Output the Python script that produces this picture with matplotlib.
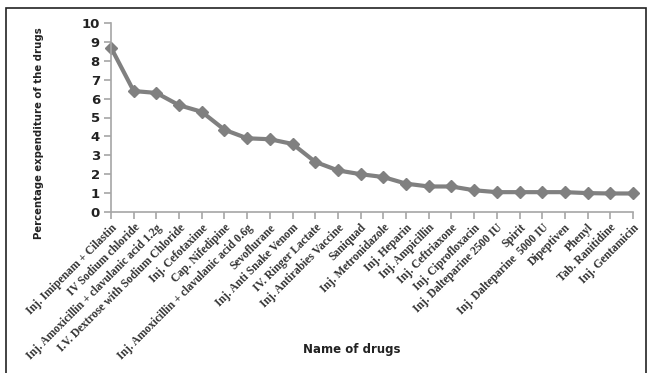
import matplotlib
matplotlib.use("Agg")
import matplotlib.pyplot as plt
from matplotlib.patches import Rectangle

drugs = [
    "Inj. Imipenam + Cilastin",
    "IV Sodium chloride",
    "Inj. Amoxicillin + clavulanic acid 1.2g",
    "I.V. Dextrose with Sodium Chloride",
    "Inj. Cefotaxime",
    "Cap. Nifedipine",
    "Inj. Amoxicillin + clavulanic acid 0.6g",
    "Sevoflurane",
    "Inj. Anti Snake Venom",
    "IV. Ringer Lactate",
    "Inj. Antirabies Vaccine",
    "Saniquad",
    "Inj. Metronidazole",
    "Inj. Heparin",
    "Inj. Ampicillin",
    "Inj. Ceftriaxone",
    "Inj. Ciprofloxacin",
    "Inj. Dalteparine 2500 IU",
    "Spirit",
    "Inj. Dalteparine  5000 IU",
    "Dipeptiven",
    "Phenyl",
    "Tab. Ranitidine",
    "Inj. Gentamicin",
]
expenditure = [8.7, 6.4, 6.3, 5.65, 5.3, 4.35, 3.9, 3.85, 3.6, 2.65,
               2.2, 2.0, 1.85, 1.5, 1.35, 1.35, 1.15, 1.05, 1.05, 1.05,
               1.05, 1.0, 0.98, 0.98]
yticks = list(range(0, 11))

fig = plt.figure(figsize=(6.47, 3.73), dpi=100)
# outer frame
fig.patches.append(Rectangle((6/647, -0.01), 640/647, 1 - 8/373 + 0.01,
                             transform=fig.transFigure, fill=False,
                             edgecolor="#222222", linewidth=1.2))

ax = fig.add_axes([111/647, 1 - 212/373, (633 - 111)/647, (212 - 23)/373])
x = list(range(len(drugs)))
ax.plot(x, expenditure, color="#808080", linewidth=3, marker="D",
        markersize=6, markerfacecolor="#808080", markeredgecolor="#808080",
        clip_on=False)

ax.set_xlim(0, len(drugs) - 1)
ax.set_ylim(0, 10)
ax.set_yticks(yticks)
ax.set_yticklabels([str(t) for t in yticks], fontsize=9.5, fontweight="bold",
                   family="DejaVu Sans", color="#222222")
ax.set_xticks(x)
ax.set_xticklabels(drugs, rotation=45, ha="right", rotation_mode="anchor",
                   fontsize=8.3, family="Liberation Serif", fontweight="bold",
                   color="#333333")
for side in ["top", "right"]:
    ax.spines[side].set_visible(False)
for side in ["left", "bottom"]:
    ax.spines[side].set_color("#a6a6a6")
    ax.spines[side].set_linewidth(1.2)
ax.tick_params(axis="both", direction="out", length=5, color="#a6a6a6", width=1.2)
ax.tick_params(axis="x", pad=2)
ax.tick_params(axis="y", pad=3)

fig.text(39/647, 1 - 133/373, "Percentage expenditure of the drugs", rotation=90,
         ha="center", va="center", fontsize=7.3, fontweight="bold",
         family="DejaVu Sans", color="#222222")
fig.text(352/647, 1 - 350/373, "Name of drugs", ha="center", va="center",
         fontsize=8.5, fontweight="bold", family="DejaVu Sans", color="#222222")

fig.savefig("out.png", dpi=100, facecolor="white")
